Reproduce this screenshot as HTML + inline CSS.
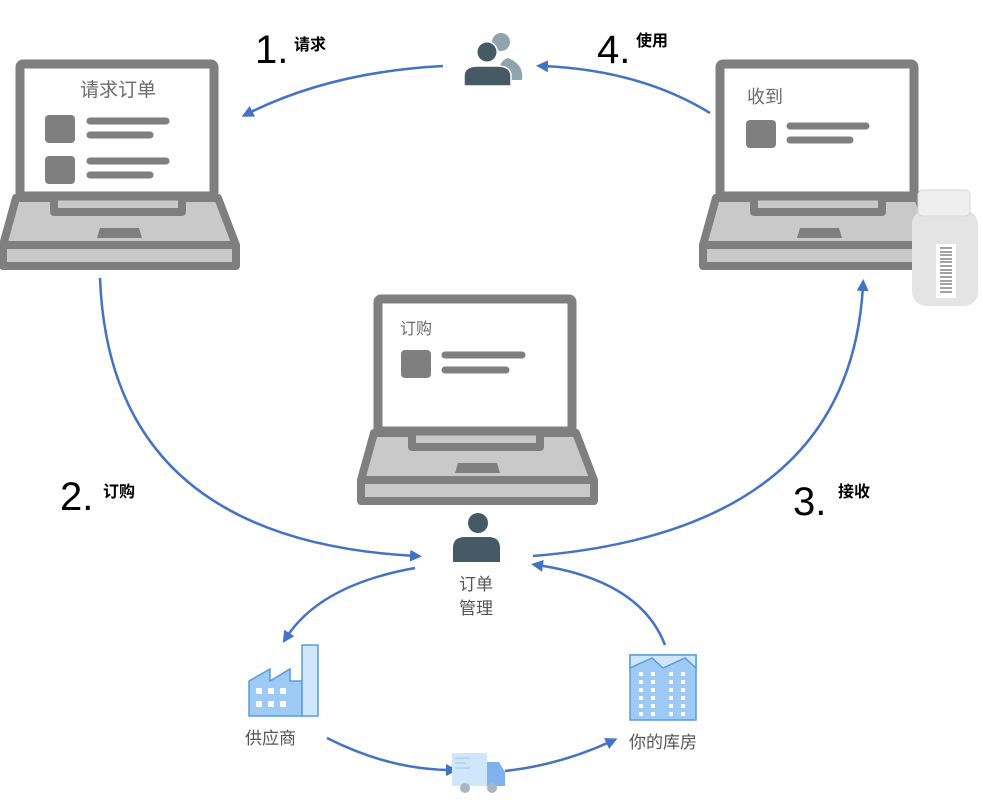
<!DOCTYPE html>
<html><head><meta charset="utf-8"><style>
html,body{margin:0;padding:0;background:#fff;}
svg{display:block;}
text{font-family:"Liberation Sans","Noto Sans CJK SC",sans-serif;}
</style></head><body>
<svg width="983" height="800" viewBox="0 0 983 800" xmlns="http://www.w3.org/2000/svg">
<defs>
<g id="lap">
 <path d="M16 198 L218 198 L236 245 L236 266 L3 266 L3 245 Z" fill="#c9c9c9" stroke="#7f7f7f" stroke-width="8" stroke-linejoin="round"/>
 <line x1="3" y1="245" x2="236" y2="245" stroke="#7f7f7f" stroke-width="8"/>
 <path d="M54 198 L54 212 L182 212 L182 198" fill="#c9c9c9" stroke="#7f7f7f" stroke-width="8" stroke-linejoin="round"/>
 <path d="M100 228 L139 228 L142 238 L97 238 Z" fill="#7f7f7f"/>
 <rect x="20" y="64" width="194" height="132" rx="3" fill="#fff" stroke="#7f7f7f" stroke-width="9"/>
</g>
<marker id="ar" markerWidth="12" markerHeight="12" refX="6" refY="6" orient="auto" markerUnits="userSpaceOnUse">
 <path d="M0 0 L12 6 L0 12 Z" fill="#4472c4"/>
</marker>
<g id="wcol" fill="#fff">
 <rect x="0" y="0" width="4" height="4"/><rect x="0" y="8" width="4" height="4"/><rect x="0" y="16" width="4" height="4"/>
 <rect x="0" y="24" width="4" height="4"/><rect x="0" y="32" width="4" height="4"/><rect x="0" y="40" width="4" height="4"/>
</g>
</defs>

<use href="#lap"/>
<use href="#lap" transform="translate(700,0)"/>
<use href="#lap" transform="translate(358,235)"/>

<text x="80" y="96" font-size="19" fill="#6b6b6b">请求订单</text>
<rect x="45" y="115" width="30" height="28" rx="4" fill="#7f7f7f"/>
<line x1="90" y1="121" x2="166" y2="121" stroke="#7f7f7f" stroke-width="7" stroke-linecap="round"/>
<line x1="90" y1="135" x2="150" y2="135" stroke="#7f7f7f" stroke-width="7" stroke-linecap="round"/>
<rect x="45" y="156" width="30" height="28" rx="4" fill="#7f7f7f"/>
<line x1="90" y1="161" x2="166" y2="161" stroke="#7f7f7f" stroke-width="7" stroke-linecap="round"/>
<line x1="90" y1="175" x2="150" y2="175" stroke="#7f7f7f" stroke-width="7" stroke-linecap="round"/>

<text x="747" y="103" font-size="18" fill="#6b6b6b">收到</text>
<rect x="746" y="120" width="30" height="28" rx="4" fill="#7f7f7f"/>
<line x1="790" y1="126" x2="866" y2="126" stroke="#7f7f7f" stroke-width="7" stroke-linecap="round"/>
<line x1="790" y1="140" x2="850" y2="140" stroke="#7f7f7f" stroke-width="7" stroke-linecap="round"/>

<text x="400" y="334" font-size="16" fill="#6b6b6b">订购</text>
<rect x="401" y="350" width="30" height="28" rx="4" fill="#7f7f7f"/>
<line x1="445" y1="355" x2="522" y2="355" stroke="#7f7f7f" stroke-width="7" stroke-linecap="round"/>
<line x1="445" y1="370" x2="506" y2="370" stroke="#7f7f7f" stroke-width="7" stroke-linecap="round"/>

<!-- bottle -->
<rect x="912" y="210" width="66" height="96" rx="14" fill="#e4e4e4"/>
<rect x="918" y="190" width="52" height="26" rx="5" fill="#efefef" stroke="#d8d8d8"/>
<rect x="936" y="244" width="20" height="54" fill="#fff"/>
<g stroke="#444" stroke-width="1">
 <line x1="940" y1="248" x2="952" y2="248"/><line x1="940" y1="252" x2="952" y2="252"/><line x1="940" y1="255" x2="952" y2="255"/>
 <line x1="940" y1="259" x2="952" y2="259"/><line x1="940" y1="262" x2="952" y2="262"/><line x1="940" y1="266" x2="952" y2="266"/>
 <line x1="940" y1="270" x2="952" y2="270"/><line x1="940" y1="273" x2="952" y2="273"/><line x1="940" y1="277" x2="952" y2="277"/>
 <line x1="940" y1="281" x2="952" y2="281"/><line x1="940" y1="284" x2="952" y2="284"/><line x1="940" y1="288" x2="952" y2="288"/>
 <line x1="940" y1="292" x2="952" y2="292"/>
</g>

<g fill="none" stroke="#4472c4" stroke-width="2.5" marker-end="url(#ar)">
 <path d="M443 66 Q330 72 247 114"/>
 <path d="M710 113 Q640 70 542 66"/>
 <path d="M100 278 Q110 540 416 556"/>
 <path d="M533 556 Q850 530 863 285"/>
 <path d="M415 568 Q320 585 286 638"/>
 <path d="M665 645 Q640 580 537 565"/>
 <path d="M327 738 Q390 770 452 770"/>
 <path d="M505 771 Q560 765 612 741"/>
</g>

<text x="255" y="63" font-size="40" fill="#000">1.</text>
<text x="294" y="50" font-size="16" font-weight="bold" fill="#000">请求</text>
<text x="597" y="63" font-size="40" fill="#000">4.</text>
<text x="636" y="46" font-size="16" font-weight="bold" fill="#000">使用</text>
<text x="60" y="510" font-size="40" fill="#000">2.</text>
<text x="103" y="497" font-size="16" font-weight="bold" fill="#000">订购</text>
<text x="793" y="515" font-size="40" fill="#000">3.</text>
<text x="838" y="497" font-size="16" font-weight="bold" fill="#000">接收</text>

<circle cx="501" cy="42" r="9" fill="#90a4ae"/>
<path d="M498 80 L522 80 Q524 64 508 58 Q498 60 498 80 Z" fill="#90a4ae"/>
<circle cx="487" cy="52" r="11" fill="#fff"/>
<circle cx="487" cy="52" r="9.5" fill="#455a64"/>
<path d="M464 86 L511 86 L511 76 Q511 66 497 66 L478 66 Q464 66 464 76 Z" fill="#455a64" stroke="#fff" stroke-width="1.5"/>

<circle cx="478" cy="523" r="10" fill="#455a64"/>
<path d="M453 562 L500 562 L500 548 Q500 537 488 537 L465 537 Q453 537 453 548 Z" fill="#455a64"/>
<text x="476" y="590" font-size="17" fill="#555" text-anchor="middle">订单</text>
<text x="476" y="614" font-size="17" fill="#555" text-anchor="middle">管理</text>

<g stroke="#5b9bd5" stroke-width="1.5">
 <path d="M249 716 L249 681 L270 669 L270 681 L290 669 L290 681 L302 681 L302 716 Z" fill="#9dcbf5"/>
 <rect x="302" y="645" width="16" height="71" fill="#cfe6fb"/>
</g>
<g fill="#fff">
 <rect x="256" y="688" width="6" height="6"/><rect x="268" y="688" width="6" height="6"/><rect x="280" y="688" width="6" height="6"/>
 <rect x="256" y="701" width="6" height="6"/><rect x="268" y="701" width="6" height="6"/><rect x="280" y="701" width="6" height="6"/>
</g>
<text x="245" y="744" font-size="17" fill="#555">供应商</text>

<rect x="630" y="655" width="66" height="65" fill="#9dcbf5" stroke="#5b9bd5" stroke-width="1.5"/>
<path d="M630 655 L630 668 L652 658 L663 668 L685 658 L696 668 L696 655 Z" fill="#cfe6fb" stroke="#5b9bd5" stroke-width="1.5"/>
<use href="#wcol" x="639" y="672"/>
<use href="#wcol" x="651" y="672"/>
<use href="#wcol" x="669" y="672"/>
<use href="#wcol" x="681" y="672"/>
<text x="629" y="748" font-size="17" fill="#555">你的库房</text>

<rect x="452" y="753" width="35" height="33" fill="#cfe6fb"/>
<g stroke="#9dcbf5" stroke-width="1"><line x1="455" y1="758" x2="470" y2="758"/><line x1="455" y1="763" x2="466" y2="763"/><line x1="455" y1="768" x2="470" y2="768"/></g>
<path d="M487 762 L499 762 L505 772 L505 786 L487 786 Z" fill="#7fb2ee"/>
<circle cx="465" cy="788" r="5" fill="#a8b5c2"/>
<circle cx="492" cy="788" r="5" fill="#a8b5c2"/>
</svg>
</body></html>
